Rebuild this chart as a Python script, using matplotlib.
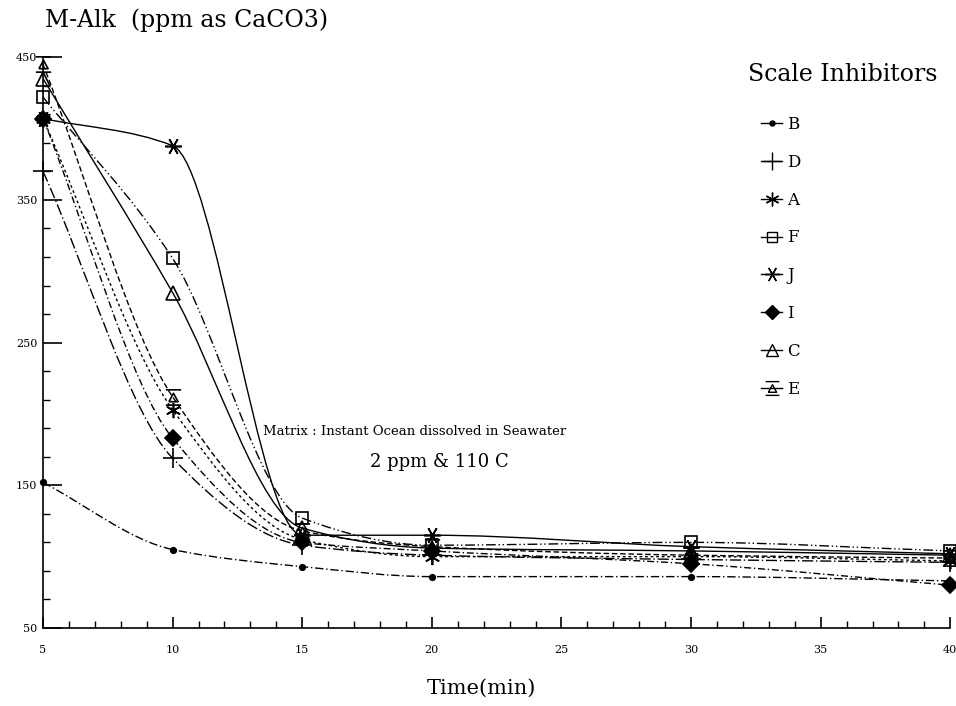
import matplotlib
matplotlib.use("Agg")
import matplotlib.pyplot as plt
import numpy as np
from matplotlib.path import Path
from matplotlib.patches import PathPatch
from matplotlib.lines import Line2D

plt.rcParams['font.family'] = ['DejaVu Serif']

# ============================================================
# Data
# ============================================================
time_min = [5, 10, 15, 20, 30, 40]

alk_B = [152, 105, 93, 86, 86, 83]
alk_D = [370, 169, 108, 101, 98, 96]
alk_A = [407, 203, 112, 100, 100, 97]
alk_F = [422, 309, 127, 108, 110, 104]
alk_J = [407, 388, 115, 115, 107, 102]
alk_I = [407, 183, 110, 104, 95, 80]
alk_C = [435, 285, 120, 106, 104, 101]
alk_E = [445, 212, 118, 107, 101, 99]

x_ticks = [5, 10, 15, 20, 25, 30, 35, 40]
y_ticks = [50, 150, 250, 350, 450]

# custom marker for E: triangle with a bar above and below
E_marker = Path(
    [(-1, 1), (1, 1), (-0.6, -0.55), (0, 0.55), (0.6, -0.55), (-0.6, -0.55),
     (-1, -1), (1, -1)],
    [Path.MOVETO, Path.LINETO, Path.MOVETO, Path.LINETO, Path.LINETO, Path.LINETO,
     Path.MOVETO, Path.LINETO])

# name, values, marker, marker size, filled, linestyle
series = [
    ("B", alk_B, "o", 4, True, (0, (6, 2, 1, 2))),
    ("D", alk_D, "+", 14, False, (0, (8, 2, 1, 2))),
    ("A", alk_A, (6, 2, 0), 11, False, (0, (2, 2))),
    ("F", alk_F, "s", 8, False, (0, (7, 2, 1, 2, 1, 2))),
    ("J", alk_J, (6, 2, 90), 12, False, "-"),
    ("I", alk_I, "D", 8, True, (0, (5, 2, 1, 2))),
    ("C", alk_C, "^", 10, False, "-"),
    ("E", alk_E, E_marker, 11, False, (0, (4, 2))),
]


def smooth_path(x, y):
    # monotone cubic (Fritsch-Carlson) tangents, drawn as Bezier segments
    x = np.asarray(x, float)
    y = np.asarray(y, float)
    h = np.diff(x)
    d = np.diff(y) / h
    m = np.zeros_like(y)
    m[0], m[-1] = d[0], d[-1]
    for k in range(1, len(x) - 1):
        if d[k - 1] * d[k] <= 0:
            m[k] = 0
        else:
            w1 = 2 * h[k] + h[k - 1]
            w2 = h[k] + 2 * h[k - 1]
            m[k] = (w1 + w2) / (w1 / d[k - 1] + w2 / d[k])
    verts = [(x[0], y[0])]
    codes = [Path.MOVETO]
    for k in range(len(x) - 1):
        verts += [(x[k] + h[k] / 3, y[k] + m[k] * h[k] / 3),
                  (x[k + 1] - h[k] / 3, y[k + 1] - m[k + 1] * h[k] / 3),
                  (x[k + 1], y[k + 1])]
        codes += [Path.CURVE4] * 3
    return Path(verts, codes)


fig = plt.figure(figsize=(9.56, 7.06), dpi=100)
ax = fig.add_axes([0.045, 0.1105, 0.949, 0.8085])

handles = []
for name, vals, mk, ms, filled, ls in series:
    ax.add_patch(PathPatch(smooth_path(time_min, vals), fill=False,
                           edgecolor="black", lw=1.0, linestyle=ls))
    ax.plot(time_min, vals, linestyle="none", marker=mk, markersize=ms,
            markerfacecolor="black" if filled else "none",
            markeredgecolor="black", markeredgewidth=1.2, clip_on=False)
    handles.append(Line2D([], [], color="black", lw=1.0, linestyle="-",
                          marker=mk, markersize=ms * 0.9,
                          markerfacecolor="black" if filled else "none",
                          markeredgecolor="black", label=name))

ax.set_xlim(5, 40)
ax.set_ylim(50, 450)
ax.spines["top"].set_visible(False)
ax.spines["right"].set_visible(False)
ax.spines["left"].set_linewidth(1.2)
ax.spines["bottom"].set_linewidth(1.2)

ax.set_xticks(x_ticks)
ax.set_xticks(np.arange(5, 41, 1), minor=True)
ax.set_yticks(y_ticks)
ax.set_yticks(np.arange(50, 451, 20), minor=True)
ax.tick_params(axis="y", which="major", direction="in", length=14,
               width=1.2, labelsize=8, pad=4)
ax.tick_params(axis="x", which="major", direction="in", length=8,
               width=1.2, labelsize=8, pad=12)
ax.tick_params(axis="both", which="minor", direction="in", length=5, width=1)

fig.text(0.047, 0.972, "M-Alk  (ppm as CaCO3)", fontsize=17, va="center",
         ha="left")
fig.text(0.504, 0.025, "Time(min)", fontsize=15, va="center", ha="center")
fig.text(0.782, 0.894, "Scale Inhibitors", fontsize=17, va="center",
         ha="left")

ax.text(0.434, 0.389, "Matrix : Instant Ocean dissolved in Seawater",
        transform=fig.transFigure, fontsize=9.5, ha="center", va="center")
ax.text(0.460, 0.346, "2 ppm & 110 C", transform=fig.transFigure,
        fontsize=13, ha="center", va="center")

leg = fig.legend(handles=handles, loc="upper left",
                 bbox_to_anchor=(0.780, 0.857), frameon=False, fontsize=12,
                 handlelength=1.3, handletextpad=0.3, labelspacing=1.25)

fig.savefig("out.png", dpi=100)
